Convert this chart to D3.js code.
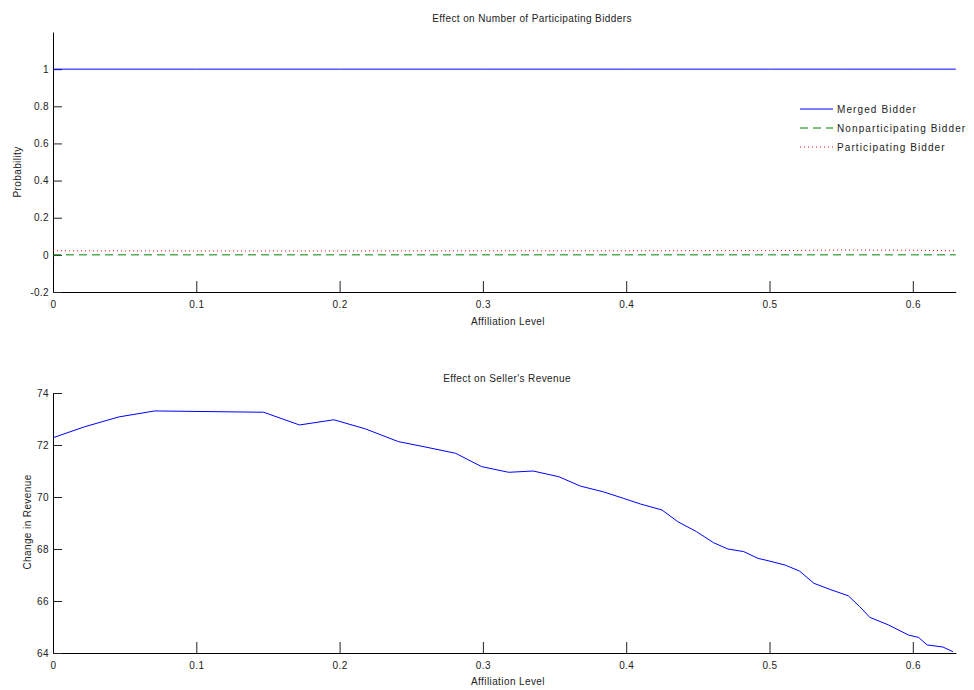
<!DOCTYPE html>
<html>
<head>
<meta charset="utf-8">
<script src="https://cdn.jsdelivr.net/npm/d3@7/dist/d3.min.js"></script>
<style>
  body { margin: 0; background: #fff; }
  svg text { font-family: "Liberation Sans", Arial, sans-serif; font-size: 10px; fill: #222; letter-spacing: 0.4px; }
  .legend text { letter-spacing: 1.1px; }
</style>
</head>
<body>
<svg id="chart" width="974" height="690"></svg>
<script>
// top panel: probabilities
const top_x = [0, 0.1, 0.2, 0.3, 0.4, 0.5, 0.55, 0.6, 0.63];
const merged = [1, 1, 1, 1, 1, 1, 1, 1, 1];
const nonpart = [0, 0, 0, 0, 0, 0, 0, 0, 0];
const part = [0.022, 0.021, 0.021, 0.022, 0.022, 0.023, 0.026, 0.025, 0.022];

// bottom panel: revenue
const rev_x = [0, 0.022, 0.046, 0.071, 0.147, 0.172, 0.196, 0.218, 0.241, 0.261, 0.281, 0.299,
  0.318, 0.335, 0.353, 0.368, 0.384, 0.398, 0.41, 0.425, 0.436, 0.449, 0.461, 0.471, 0.482,
  0.492, 0.499, 0.511, 0.521, 0.531, 0.542, 0.555, 0.563, 0.570, 0.583, 0.597, 0.604, 0.610,
  0.621, 0.628];
const revenue = [72.28, 72.70, 73.08, 73.31, 73.26, 72.77, 72.97, 72.62, 72.13, 71.91, 71.68, 71.17,
  70.95, 71.0, 70.78, 70.42, 70.2, 69.95, 69.73, 69.5, 69.05, 68.67, 68.24, 68.0, 67.9,
  67.64, 67.55, 67.38, 67.15, 66.68, 66.45, 66.2, 65.78, 65.37, 65.08, 64.69, 64.6, 64.31,
  64.23, 64.05];

const x_ticks = [0, 0.1, 0.2, 0.3, 0.4, 0.5, 0.6];
const prob_ticks = [-0.2, 0, 0.2, 0.4, 0.6, 0.8, 1];
const rev_ticks = [64, 66, 68, 70, 72, 74];

const legend_items = [
  {name: 'Merged Bidder', color: '#0000ff', dash: null},
  {name: 'Nonparticipating Bidder', color: '#008000', dash: '8,5'},
  {name: 'Participating Bidder', color: '#ff0000', dash: '1,3'}
];

const svg = d3.select('#chart');

const x = d3.scaleLinear().domain([0, 0.63]).range([53, 955.8]);
const y_top = d3.scaleLinear().domain([-0.2, 1.2]).range([292, 32]);
const y_bot = d3.scaleLinear().domain([64, 74]).range([653, 393]);

function draw_axes(yscale, yticks) {
  const x_ax = d3.axisBottom(x).tickValues(x_ticks).tickSizeInner(-11).tickSizeOuter(0)
    .tickPadding(14).tickFormat(d3.format('~g'));
  const y_ax = d3.axisLeft(yscale).tickValues(yticks).tickSizeInner(-9).tickSizeOuter(0)
    .tickPadding(4).tickFormat(d3.format('~g'));

  const gx = svg.append('g')
    .attr('transform', 'translate(0,' + yscale.range()[0] + ')')
    .call(x_ax);
  const gy = svg.append('g')
    .attr('transform', 'translate(' + x.range()[0] + ',0)')
    .call(y_ax);
  for (let g of [gx, gy]) {
    g.select('.domain').attr('stroke', '#000');
    g.selectAll('.tick line').attr('stroke', '#222');
    g.selectAll('text').attr('font-size', 10).attr('font-family', null);
  }
  gx.selectAll('.tick text').attr('dy', '0.2em');
  gy.selectAll('.tick text').text((d) => d3.format('~g')(d).replace('−', '-'));
}

function title(text, cx, cy) {
  svg.append('text')
    .attr('x', cx).attr('y', cy)
    .attr('text-anchor', 'middle')
    .text(text);
}

function ylabel(text, cx, cy) {
  svg.append('text')
    .attr('transform', 'translate(' + cx + ',' + cy + ') rotate(-90)')
    .attr('text-anchor', 'middle')
    .text(text);
}

// ---- top panel
draw_axes(y_top, prob_ticks);
const top_line = d3.line().x((d, i) => x(top_x[i])).y((d) => y_top(d));
for (let [vals, item] of [[nonpart, legend_items[1]], [part, legend_items[2]], [merged, legend_items[0]]]) {
  svg.append('path')
    .attr('d', top_line(vals))
    .attr('fill', 'none')
    .attr('stroke', item.color)
    .attr('stroke-width', 1)
    .attr('stroke-dasharray', item.dash);
}
title('Effect on Number of Participating Bidders', 532, 22);
title('Affiliation Level', 508, 325);
ylabel('Probability', 21, 172);

const legend = svg.append('g').attr('class', 'legend');
legend_items.forEach((item, i) => {
  const yy = 109 + i * 19;
  legend.append('line')
    .attr('x1', 800).attr('x2', 833).attr('y1', yy).attr('y2', yy)
    .attr('stroke', item.color)
    .attr('stroke-dasharray', item.dash);
  legend.append('text')
    .attr('x', 837).attr('y', yy + 3.5)
    .text(item.name);
});

// ---- bottom panel
draw_axes(y_bot, rev_ticks);
svg.append('path')
  .attr('d', d3.line().x((d, i) => x(rev_x[i])).y((d) => y_bot(d))(revenue))
  .attr('fill', 'none')
  .attr('stroke', '#0000ff')
  .attr('stroke-width', 1);
title("Effect on Seller's Revenue", 507, 382);
title('Affiliation Level', 508, 685);
ylabel('Change in Revenue', 31, 522);
</script>
</body>
</html>
